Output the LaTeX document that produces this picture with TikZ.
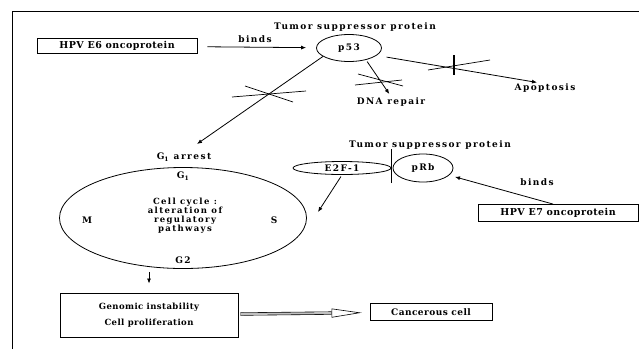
\documentclass[tikz,border=0pt]{standalone}
\usepackage{fontspec}
\setmainfont{DejaVu Serif}
\newfontfamily\labelfont[LetterSpace=16]{DejaVu Serif}
\newfontfamily\boxfont[LetterSpace=5]{DejaVu Serif}
\usetikzlibrary{arrows.meta,positioning,shapes.geometric}
\tikzset{
mybox/.style={
  draw=black,
  line width=0.9pt,
  inner sep=2pt,
  align=center,
  font=\boxfont\bfseries\fontsize{9.5}{11}\selectfont,
  }
}
\tikzset{
myoval/.style={
  ellipse,
  draw=black,
  line width=0.8pt,
  inner sep=0pt,
  font=\labelfont\bfseries\fontsize{9}{11}\selectfont,
  }
}
\tikzset{
mylabel/.style={
  inner sep=1pt,
  align=center,
  font=\labelfont\bfseries\fontsize{9}{11}\selectfont,
  }
}
\tikzset{
myline/.style={
  line width=0.8pt,
  -{Latex[length=5pt,width=4pt]}
  }
}
\tikzset{
mycross/.style={
  line width=0.7pt,
  }
}

\begin{document}
\begin{tikzpicture}[x=1pt,y=-1pt]
    \useasboundingbox (0,0) rectangle (639,349);
    \draw[line width=1pt] (12,349) -- (12,11) -- (639,11);

    % p53 part
    \node[mybox, minimum width=160, minimum height=15] (e6) at (117,46) {HPV E6 oncoprotein};
    \node[myoval, minimum width=65, minimum height=27] (p53) at (349,48) {p53};
    \node[mylabel] (tsp1) at (355,27) {Tumor suppressor protein};
    \node[mylabel] (binds1) at (255,39) {binds};
    \node[mylabel] (dna) at (391,102) {DNA repair};
    \node[mylabel] (apop) at (545,88) {Apoptosis};
    \coordinate (g1tip) at (197,144);

    % cell cycle part
    \node[myoval, minimum width=247, minimum height=101] (cyc) at (183,218) {};
    \node[mylabel] (g1arr) at (184,157) {G\textsubscript{1} arrest};
    \node[mylabel, below=4pt of cyc.north] (g1) {G\textsubscript{1}};
    \node[mylabel, above=4pt of cyc.south] (g2) {G2};
    \node[mylabel] (mph) at (87,220) {M};
    \node[mylabel] (sph) at (274,220) {S};
    \node[mylabel, font=\labelfont\bfseries\fontsize{8.5}{9}\selectfont] (cyctxt) at (185,216) {Cell cycle :\\alteration of\\regulatory\\pathways};

    % pRb part
    \node[myoval, minimum width=98, minimum height=13] (e2f) at (342,168) {E2F-1};
    \node[myoval, minimum width=60, minimum height=28] (prb) at (423,168) {pRb};
    \node[mylabel] (tsp2) at (430,145) {Tumor suppressor protein};
    \node[mybox, minimum width=160, minimum height=17] (e7) at (558,213) {HPV E7 oncoprotein};
    \node[mylabel] (binds2) at (537,182) {binds};
    \coordinate (e2ftip) at (318,212);

    % outcome part
    \node[mybox, minimum width=178, minimum height=44, font=\boxfont\bfseries\fontsize{8.5}{16}\selectfont] (genom) at (149,315) {Genomic instability\\Cell proliferation};
    \node[mybox, minimum width=122, minimum height=17, font=\boxfont\bfseries\fontsize{9}{10}\selectfont] (cancer) at (431,312) {Cancerous cell};

    % p53 edges
    \draw[myline, shorten <=10pt, shorten >=10pt] (e6) -- (p53);
    \draw[myline] (p53.198) -- (g1tip);
    \draw[myline, shorten <=2pt, shorten >=3pt] (p53.-35) -- (dna.north);
    \draw[myline, shorten <=10pt] (p53.-15) -- ([xshift=-8pt]apop.north);

    % blocked edges
    \draw[mycross] (232,97) -- (306,91);
    \draw[mycross] (245,86) -- (293,102);
    \draw[mycross] (355,85) -- (402,80);
    \draw[mycross] (358,74) -- (403,86);
    \draw[mycross] (428,70) -- (490,60);
    \draw[line width=1.6pt] (454,55) -- (454,75);

    % pRb edges
    \draw[line width=1.2pt] ([yshift=-15pt]e2f.east) -- ([yshift=19pt]e2f.east);
    \draw[myline, shorten <=2pt] (e2f.south) -- (e2ftip);
    \draw[myline, shorten >=6pt] ([xshift=-5pt]e7.north) -- (prb);

    % outcome edges
    \draw[myline, shorten <=3pt, shorten >=9pt] (cyc.south -| genom) -- (genom.north);
    \draw[line width=0.6pt, double=gray!50, double distance=2pt, -{Triangle[open,length=30pt,width=9pt]}, shorten <=2pt, shorten >=8pt] (genom) -- (cancer);
\end{tikzpicture}
\end{document}
